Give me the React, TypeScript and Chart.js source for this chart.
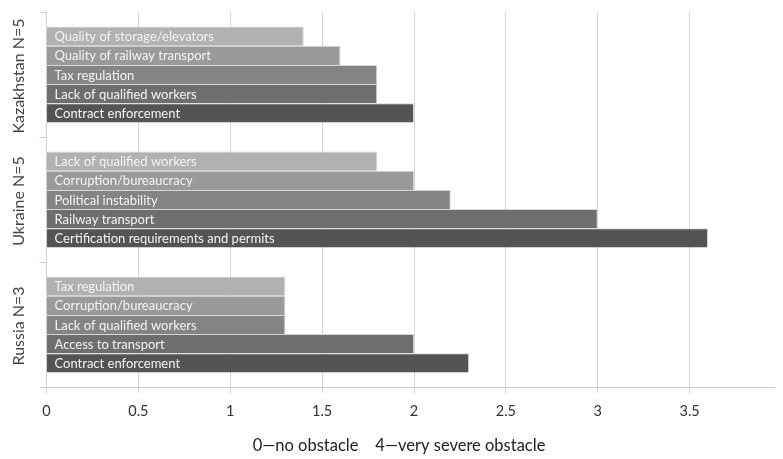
import React, { useEffect, useRef } from "react";
import { Chart, registerables } from "chart.js";

Chart.register(...registerables);

const groups = ["Kazakhstan N=5", "Ukraine N=5", "Russia N=3"];

const kazLabels = [
  "Quality of storage/elevators",
  "Quality of railway transport",
  "Tax regulation",
  "Lack of qualified workers",
  "Contract enforcement",
];
const kazValues = [1.4, 1.6, 1.8, 1.8, 2.0];

const ukrLabels = [
  "Lack of qualified workers",
  "Corruption/bureaucracy",
  "Political instability",
  "Railway transport",
  "Certification requirements and permits",
];
const ukrValues = [1.8, 2.0, 2.2, 3.0, 3.6];

const rusLabels = [
  "Tax regulation",
  "Corruption/bureaucracy",
  "Lack of qualified workers",
  "Access to transport",
  "Contract enforcement",
];
const rusValues = [1.3, 1.3, 1.3, 2.0, 2.3];

const shades = ["#b1b1b1", "#9a9a9a", "#848484", "#6e6e6e", "#545454"];

const xTicks = [0, 0.5, 1, 1.5, 2, 2.5, 3, 3.5, 4];
const axisTitle = "0\u2014no obstacle    4\u2014very severe obstacle";

const FONT = "Lato";

export default function App() {
  const ref = useRef<HTMLCanvasElement>(null);

  useEffect(() => {
    document.documentElement.style.overflow = "hidden";
    if (!ref.current) return;
    const labelSets = [kazLabels, ukrLabels, rusLabels];
    const valueSets = [kazValues, ukrValues, rusValues];

    const datasets = shades.map((c, i) => ({
      label: "rank " + (i + 1),
      data: valueSets.map((v) => v[i]),
      names: labelSets.map((l) => l[i]),
      backgroundColor: c,
      borderColor: "#d6d6d6",
      borderWidth: { top: 1, right: 1, bottom: 0, left: 0 },
      borderSkipped: false,
      categoryPercentage: 0.768,
      barPercentage: 1,
    }));

    const barText = {
      id: "barText",
      afterDatasetsDraw(chart: any) {
        const ctx = chart.ctx;
        ctx.save();
        ctx.font = `13px ${FONT}`;
        ctx.fillStyle = "#f4f4f4";
        ctx.textBaseline = "middle";
        ctx.textAlign = "left";
        chart.data.datasets.forEach((ds: any, di: number) => {
          const meta = chart.getDatasetMeta(di);
          meta.data.forEach((bar: any, j: number) => {
            ctx.fillText(ds.names[j], chart.chartArea.left + 8, bar.y + 1);
          });
        });
        // group labels
        const y = chart.scales.y;
        ctx.font = `16px ${FONT}`;
        ctx.fillStyle = "#444";
        ctx.textAlign = "center";
        groups.forEach((g, i) => {
          const py = y.getPixelForValue(i) + 1.5;
          ctx.save();
          ctx.translate(11, py);
          ctx.rotate(-Math.PI / 2);
          ctx.fillText(g, 0, 0);
          ctx.restore();
        });
        // axis title
        ctx.font = `16.5px ${FONT}`;
        ctx.fillStyle = "#222";
        ctx.textAlign = "center";
        ctx.fillText(axisTitle, 391, 438);
        ctx.restore();
      },
    };

    const chart = new Chart(ref.current, {
      type: "bar",
      data: { labels: groups, datasets: datasets as any },
      options: {
        indexAxis: "y",
        animation: false,
        responsive: false,
        layout: { padding: { top: 4, right: 1.5, left: 0, bottom: 0 } },
        plugins: { legend: { display: false }, tooltip: { enabled: false } },
        scales: {
          x: {
            min: 0,
            max: 4,
            afterBuildTicks: (s: any) => {
              s.ticks = xTicks.map((v) => ({ value: v }));
            },
            afterFit: (s: any) => {
              s.height = 72;
              s.paddingRight = 0;
              s.paddingLeft = 0;
            },
            grid: { color: "#d4d4d4", tickLength: 6, lineWidth: 1 },
            border: { color: "#cfcfcf" },
            ticks: {
              padding: 10,
              color: "#333",
              font: { family: FONT, size: 14.5 },
              callback: (v: any) => String(v),
            },
          },
          y: {
            afterFit: (s: any) => {
              s.width = 38.5;
            },
            grid: {
              drawOnChartArea: false,
              drawTicks: true,
              tickLength: 7,
              color: "#cfcfcf",
              offset: true,
            },
            border: { color: "#cfcfcf" },
            ticks: { display: false },
          },
        },
      },
      plugins: [barText],
    });
    return () => chart.destroy();
  }, []);

  return (
    <canvas ref={ref} width={775} height={451} style={{ width: 775, height: 451, display: "block" }} />
  );
}
